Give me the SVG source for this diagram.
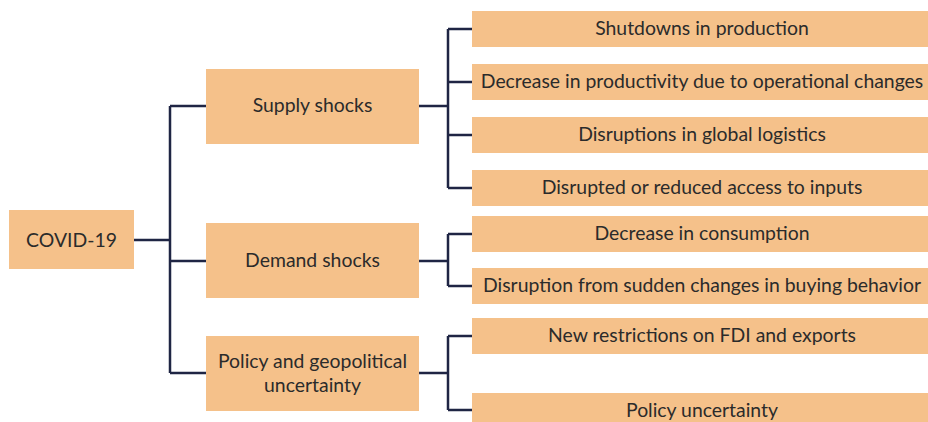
<svg xmlns="http://www.w3.org/2000/svg" width="928" height="422" viewBox="0 0 928 422">
<style>
.box{fill:#F5C18A;}
.t{font-family:Lato,"Open Sans","Liberation Sans",sans-serif;font-size:19.4px;fill:#2b2b2b;text-anchor:middle;}
.c{fill:none;stroke:#1f2544;stroke-width:2.5;}
</style>
<rect width="928" height="422" fill="#ffffff"/>
<g id="connectors">
<path class="c" d="M134 240H170M170 106V373M170 106H206M170 261H206M170 373H206"/>
<path class="c" d="M418 106H448M448 29V188M448 29H472M448 82H472M448 135H472M448 188H472"/>
<path class="c" d="M418 261H448M448 234V286M448 234H472M448 286H472"/>
<path class="c" d="M418 373H448M448 336V410M448 336H472M448 410H472"/>
</g>
<g id="covid"><rect class="box" x="9" y="210" width="125" height="59"/><text class="t" x="71.5" y="247">COVID-19</text></g>
<g id="supply"><rect class="box" x="206" y="69" width="213" height="75"/><text class="t" x="312.5" y="112">Supply shocks</text></g>
<g id="demand"><rect class="box" x="206" y="223" width="213" height="75"/><text class="t" x="312.5" y="267">Demand shocks</text></g>
<g id="policy"><rect class="box" x="206" y="336" width="213" height="75"/><text class="t" x="312.5" y="368">Policy and geopolitical</text><text class="t" x="312.5" y="392">uncertainty</text></g>
<g id="shutdowns"><rect class="box" x="472" y="11" width="461" height="36"/><text class="t" x="702" y="35">Shutdowns in production</text></g>
<g id="productivity"><rect class="box" x="472" y="64" width="461" height="36"/><text class="t" x="702" y="88">Decrease in productivity due to operational changes</text></g>
<g id="logistics"><rect class="box" x="472" y="117" width="461" height="36"/><text class="t" x="702" y="141">Disruptions in global logistics</text></g>
<g id="inputs"><rect class="box" x="472" y="170" width="461" height="36"/><text class="t" x="702" y="194">Disrupted or reduced access to inputs</text></g>
<g id="consumption"><rect class="box" x="472" y="216" width="461" height="36"/><text class="t" x="702" y="240">Decrease in consumption</text></g>
<g id="buying"><rect class="box" x="472" y="268" width="461" height="36"/><text class="t" x="702" y="292">Disruption from sudden changes in buying behavior</text></g>
<g id="fdi"><rect class="box" x="472" y="318" width="461" height="36"/><text class="t" x="702" y="342">New restrictions on FDI and exports</text></g>
<g id="uncertainty"><rect class="box" x="472" y="393" width="461" height="36"/><text class="t" x="702" y="417">Policy uncertainty</text></g>
</svg>
